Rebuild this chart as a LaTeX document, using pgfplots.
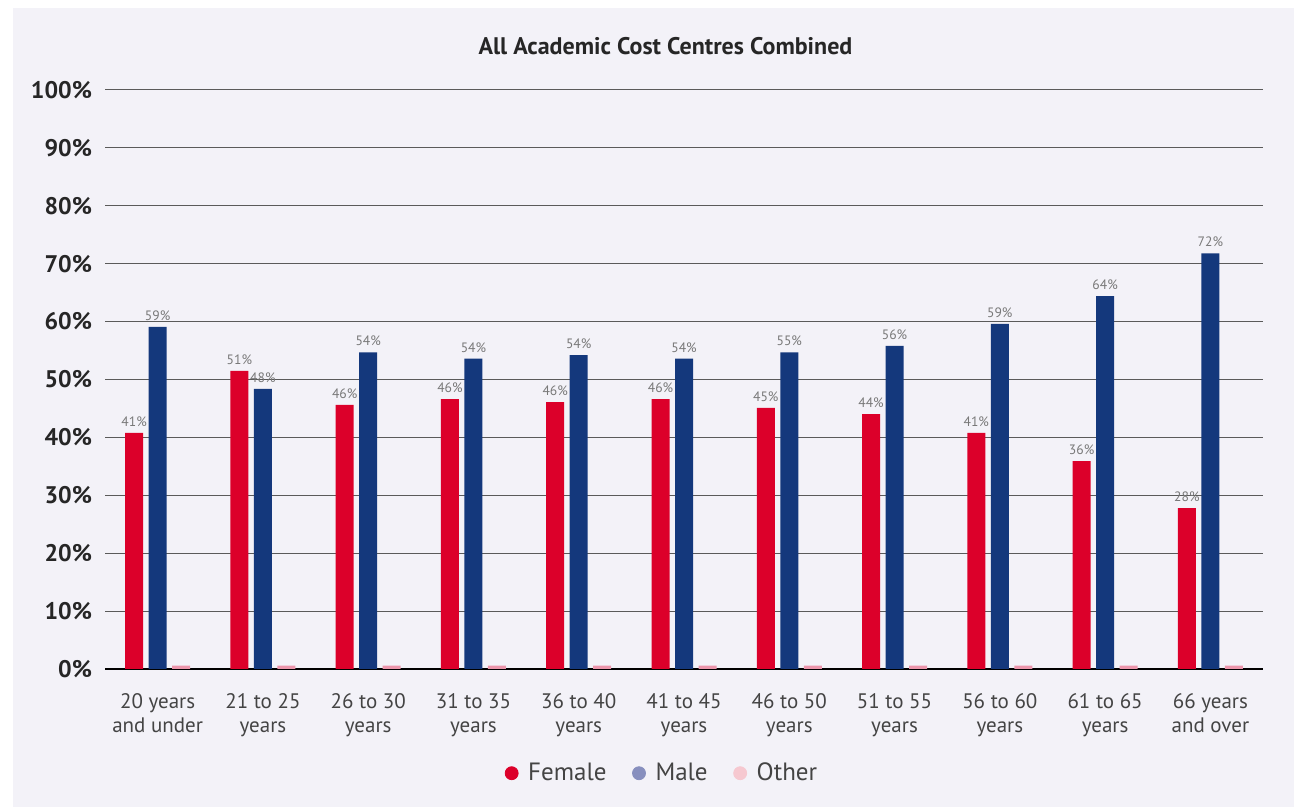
\documentclass[border=0pt]{standalone}
\usepackage{pgfplots}
\pgfplotsset{compat=1.18}
\usepackage{pgfplotstable}
\usepackage{fontspec}
\setmainfont{PT Sans}
\definecolor{bg}{RGB}{243,242,248}
\definecolor{fem}{RGB}{220,0,42}
\definecolor{mal}{RGB}{20,56,124}
\definecolor{oth}{RGB}{236,150,172}
\definecolor{malL}{RGB}{135,143,190}
\definecolor{othL}{RGB}{246,200,208}
\definecolor{txt}{RGB}{68,68,68}
\definecolor{lab}{RGB}{120,120,120}
\definecolor{gridc}{RGB}{90,90,90}

\pgfplotstableread{
x y m
0 40.8 41
1 51.5 51
2 45.6 46
3 46.6 46
4 46.1 46
5 46.6 46
6 45.1 45
7 44.0 44
8 40.8 41
9 35.9 36
10 27.8 28
}\female
\pgfplotstableread{
x y m
0 59.1 59
1 48.4 48
2 54.7 54
3 53.6 54
4 54.2 54
5 53.6 54
6 54.7 55
7 55.8 56
8 59.6 59
9 64.4 64
10 71.8 72
}\male
\pgfplotstableread{
x y
0 0.6
1 0.6
2 0.6
3 0.6
4 0.6
5 0.6
6 0.6
7 0.6
8 0.6
9 0.6
10 0.6
}\other

\begin{document}
\begin{tikzpicture}
\useasboundingbox (0pt,0pt) rectangle (647pt,403.5pt);
\fill[white] (0pt,0pt) rectangle (647pt,403.5pt);
\fill[bg] (6.5pt,0pt) rectangle (647pt,399.5pt);
\node[font=\bfseries\fontsize{12}{14}\selectfont, text=black!85] at (332.75pt,380.5pt) {All Academic Cost Centres Combined};
\begin{axis}[
  at={(52.5pt,69pt)}, anchor=south west,
  scale only axis, width=579pt, height=289.5pt,
  xmin=-0.5, xmax=10.5, ymin=0, ymax=100,
  axis x line*=bottom, axis y line*=left,
  y axis line style={draw=none},
  x axis line style={black, line width=0.6pt},
  major tick length=0pt,
  /pgf/number format/assume math mode=true,
  ytick={0,10,...,100},
  yticklabel={\pgfmathprintnumber{\tick}\%},
  yticklabel style={font=\bfseries\fontsize{12}{14}\selectfont, text=black!85, xshift=-3pt},
  ymajorgrids, grid style={gridc, line width=0.5pt},
  xtick={0,...,10},
  xticklabels={{20 years\\and under},{21 to 25\\years},{26 to 30\\years},{31 to 35\\years},{36 to 40\\years},{41 to 45\\years},{46 to 50\\years},{51 to 55\\years},{56 to 60\\years},{61 to 65\\years},{66 years\\and over}},
  xticklabel style={align=center, font=\fontsize{10.5}{12}\selectfont, text=txt, yshift=-8.5pt},
  legend style={at={(0.482,-0.18)}, anchor=center, draw=none, fill=none,
    font=\fontsize{12.5}{14}\selectfont, text=txt,
    /tikz/every odd column/.append style={column sep=3pt},
    /tikz/every even column/.append style={column sep=11pt}},
  legend columns=3,
  nodes near coords={\pgfmathprintnumber[fixed,precision=0]{\pgfplotspointmeta}\%},
  every node near coord/.append style={font=\fontsize{6.8}{8}\selectfont, text=lab, inner sep=1.5pt, yshift=1.5pt},
]
\addplot[ybar, bar width=9pt, bar shift=-11.75pt, fill=fem, draw=none, forget plot,
  point meta=explicit, every node near coord/.append style={xshift=-11.75pt}] table[x=x, y=y, meta=m] {\female};
\addplot[ybar, bar width=9pt, bar shift=0pt, fill=mal, draw=none, forget plot,
  point meta=explicit] table[x=x, y=y, meta=m] {\male};
\addplot[ybar, bar width=9pt, bar shift=11.75pt, fill=oth, draw=none, forget plot,
  nodes near coords={}] table[x=x, y=y] {\other};
\addlegendimage{only marks, mark=*, mark size=3.25pt, color=fem}
\addlegendentry{Female}
\addlegendimage{only marks, mark=*, mark size=3.25pt, color=malL}
\addlegendentry{Male}
\addlegendimage{only marks, mark=*, mark size=3.25pt, color=othL}
\addlegendentry{Other}
\end{axis}
\end{tikzpicture}
\end{document}
